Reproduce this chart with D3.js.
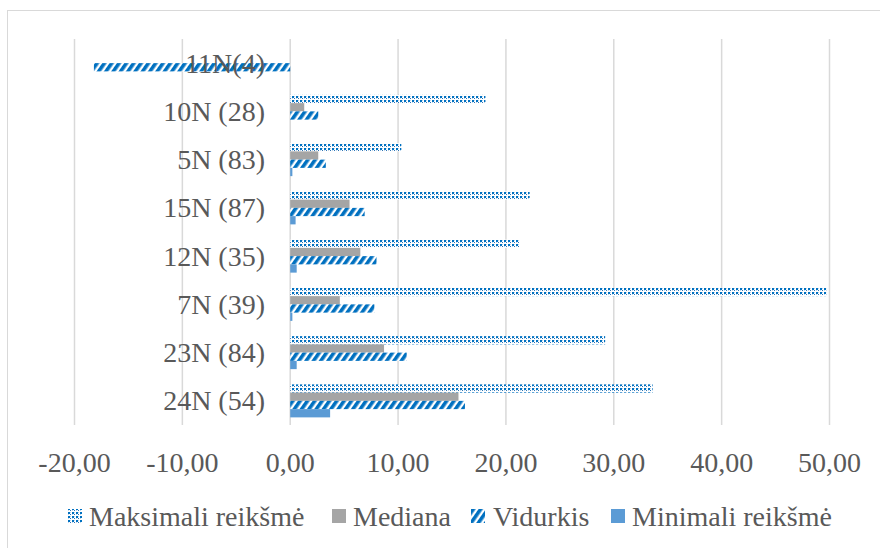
<!DOCTYPE html>
<html>
<head>
<meta charset="utf-8">
<script src="https://cdn.jsdelivr.net/npm/d3@7"></script>
<style>
  html, body { margin: 0; padding: 0; background: #fff; }
  svg { display: block; }
  svg text { font-family: "Liberation Serif", "DejaVu Serif", "Times New Roman", Times, serif; fill: #595959; }
</style>
</head>
<body>
<svg id="chart" width="880" height="548"></svg>
<script>
// ---- data (top-to-bottom order as displayed) ----
const categories = ["11N(4)", "10N (28)", "5N (83)", "15N (87)", "12N (35)", "7N (39)", "23N (84)", "24N (54)"];
const seriesNames = ["Maksimali reikšmė", "Mediana", "Vidurkis", "Minimali reikšmė"];
const maksimali = [null, 18.1, 10.3, 22.2, 21.3, 49.7, 29.2, 33.6];
const mediana   = [null, 1.3, 2.6, 5.5, 6.5, 4.6, 8.7, 15.6];
const vidurkis  = [-18.2, 2.6, 3.3, 6.9, 8.0, 7.8, 10.8, 16.2];
const minimali  = [null, 0, 0.2, 0.5, 0.6, 0.2, 0.6, 3.7];
const xTicks = [-20, -10, 0, 10, 20, 30, 40, 50];

const seriesValues = [maksimali, mediana, vidurkis, minimali];
const seriesKeys = ["max", "med", "avg", "min"];
const FONT = "'Liberation Serif', 'DejaVu Serif', 'Times New Roman', serif";

const svg = d3.select("#chart");
const defs = svg.append("defs");

// dotted pattern for Maksimali
const pDot = defs.append("pattern").attr("id", "pDot").attr("patternUnits", "userSpaceOnUse")
  .attr("width", 4).attr("height", 4);
pDot.append("rect").attr("width", 4).attr("height", 4).attr("fill", "#ffffff");
pDot.append("rect").attr("x", 0).attr("y", 0).attr("width", 2).attr("height", 2).attr("fill", "#0070c0");
pDot.append("rect").attr("x", 2).attr("y", 2).attr("width", 1).attr("height", 1).attr("fill", "#2e75b6");
pDot.append("rect").attr("x", 2).attr("y", 0).attr("width", 1).attr("height", 1).attr("fill", "#bdd7ee");
pDot.append("rect").attr("x", 0).attr("y", 2).attr("width", 1).attr("height", 1).attr("fill", "#bdd7ee");

// wide upward diagonal stripes for Vidurkis
const pStripe = defs.append("pattern").attr("id", "pStripe").attr("patternUnits", "userSpaceOnUse")
  .attr("width", 6).attr("height", 6).attr("patternTransform", "rotate(35)");
pStripe.append("rect").attr("width", 6).attr("height", 6).attr("fill", "#ffffff");
pStripe.append("rect").attr("x", 0).attr("y", 0).attr("width", 3.6).attr("height", 6).attr("fill", "#0070c0");

const fills = { max: "url(#pDot)", med: "#a5a5a5", avg: "url(#pStripe)", min: "#5b9bd5" };

// chart border
svg.append("rect").attr("x", 7.5).attr("y", 10.5).attr("width", 900).attr("height", 600)
  .attr("fill", "none").attr("stroke", "#d9d9d9").attr("stroke-width", 1);

// scales
const x = d3.scaleLinear().domain([-20, 50]).range([74.5, 829.5]);
const y = d3.scaleBand().domain(categories).range([39, 425]).padding(0);
const bw = y.bandwidth();
const ys = d3.scaleBand().domain(seriesKeys).range([bw * 0.158, bw * 0.842]).padding(0);

// gridlines
svg.append("g").selectAll("line").data(xTicks).join("line")
  .attr("x1", d => x(d)).attr("x2", d => x(d))
  .attr("y1", 39).attr("y2", 425)
  .attr("stroke", "#d9d9d9").attr("stroke-width", 1.5);

// bars
const rows = [];
seriesKeys.forEach((k, si) => {
  categories.forEach((c, ci) => {
    const v = seriesValues[si][ci];
    if (v !== null && v !== undefined) rows.push({ key: k, cat: c, v });
  });
});
svg.append("g").selectAll("rect").data(rows).join("rect")
  .attr("x", d => Math.min(x(0), x(d.v)))
  .attr("width", d => Math.abs(x(d.v) - x(0)))
  .attr("y", d => y(d.cat) + ys(d.key))
  .attr("height", ys.bandwidth())
  .attr("fill", d => fills[d.key]);

// x-axis tick labels
const fmt = v => d3.format(".2f")(v).replace("\u2212", "-").replace(".", ",");
svg.append("g").selectAll("text").data(xTicks).join("text")
  .attr("x", d => x(d)).attr("y", 472)
  .attr("text-anchor", "middle").attr("font-size", 28).attr("font-family", FONT)
  .text(fmt);

// category labels
svg.append("g").selectAll("text").data(categories).join("text")
  .attr("x", 265).attr("y", d => y(d) + bw / 2 + 9.5)
  .attr("text-anchor", "end").attr("font-size", 28).attr("font-family", FONT)
  .text(d => d);

// legend
const legendPos = [
  { key: "max", mx: 68, tx: 89 },
  { key: "med", mx: 332, tx: 353 },
  { key: "avg", mx: 471, tx: 493 },
  { key: "min", mx: 611, tx: 632 }
];
const lg = svg.append("g");
legendPos.forEach((p, i) => {
  lg.append("rect").attr("x", p.mx).attr("y", 509).attr("width", 14).attr("height", 14)
    .attr("fill", fills[p.key]);
  lg.append("text").attr("x", p.tx).attr("y", 526).attr("font-size", 28).attr("font-family", FONT)
    .text(seriesNames[i]);
});
</script>
</body>
</html>
